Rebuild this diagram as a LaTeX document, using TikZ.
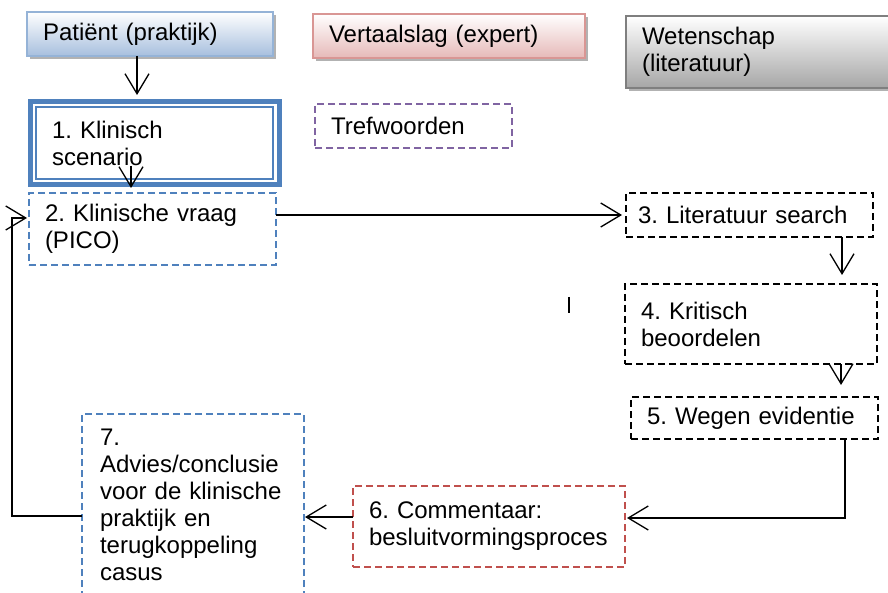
\documentclass[tikz,border=0pt]{standalone}
\usepackage{fontspec}
\setmainfont{Liberation Sans}
\frenchspacing
\usetikzlibrary{arrows.meta,shadows}

\definecolor{accblue}{HTML}{4F81BD}
\definecolor{lightblue}{HTML}{95B3D7}
\definecolor{patblue}{HTML}{A7BFDE}
\definecolor{accred}{HTML}{C0504D}
\definecolor{pinkline}{HTML}{D99694}
\definecolor{pinkfill}{HTML}{E6B9B8}
\definecolor{accpurple}{HTML}{8064A2}
\definecolor{grayline}{HTML}{7F7F7F}
\definecolor{grayfill}{HTML}{A6A6A6}

\begin{document}
\begin{tikzpicture}[
    x=1pt, y=-1pt,
    box/.style={rectangle, anchor=north west, outer sep=0pt, inner xsep=16pt, inner ysep=0pt,
        align=left, line width=1.5pt, font=\fontsize{24}{27}\selectfont},
    header/.style={box, line width=1.2pt,
        drop shadow={shadow xshift=3pt, shadow yshift=-3pt, fill=black!30, opacity=1}},
    dashbox/.style={box, dash pattern=on 7pt off 4pt},
    arrow/.style={-{Straight Barb[length=20pt, width=24pt]}, line width=1.3pt}
]
\useasboundingbox (0,0) rectangle (888,593);

% Headers
\node[header, draw=lightblue, top color=white, bottom color=patblue,
    minimum width=246pt, minimum height=44pt, text width=214pt] (pat) at (27,12) {Patiënt (praktijk)};
\node[header, draw=pinkline, top color=white, bottom color=pinkfill,
    minimum width=272pt, minimum height=44pt, text width=240pt] (vert) at (313,14) {Vertaalslag (expert)};
\node[header, draw=grayline, top color=white, bottom color=grayfill,
    minimum width=270pt, minimum height=72pt, text width=238pt] (wet) at (626,16) {Wetenschap\\(literatuur)};

% Steps
\node[box, draw=accblue, line width=5pt, inner xsep=21.5pt,
    minimum width=249pt, minimum height=83pt, text width=206pt] (b1) at (30.5,101.5) {1. Klinisch\\scenario};
\draw[accblue, line width=1.2pt] ([shift={(5.5,5.5)}]b1.north west) rectangle ([shift={(-6.5,-5.5)}]b1.south east);
\node[dashbox, draw=accpurple, minimum width=197pt, minimum height=44pt, text width=165pt] (tref) at (315,104) {Trefwoorden};
\node[dashbox, draw=accblue, minimum width=247pt, minimum height=72pt, text width=215pt] (b2) at (29,193) {2. Klinische vraag\\(PICO)};
\node[dashbox, draw=black, inner xsep=12pt, minimum width=247pt, minimum height=44pt, text width=223pt] (b3) at (626,193) {3. Literatuur search};
\node[dashbox, draw=black, minimum width=252pt, minimum height=80pt, text width=220pt] (b4) at (625,284) {4. Kritisch\\beoordelen};
\node[dashbox, draw=black, minimum width=247pt, minimum height=42pt, text width=215pt] (b5) at (631,397) {5. Wegen evidentie};
\node[dashbox, draw=accred, minimum width=272pt, minimum height=81pt, text width=240pt] (b6) at (353,486) {6. Commentaar:\\besluitvormingsproces};
\node[dashbox, draw=accblue, inner xsep=18pt, minimum width=222pt, minimum height=182pt, text width=186pt] (b7) at (82,414)
    {7.\\Advies/conclusie\\voor de klinische\\praktijk en\\terugkoppeling\\casus};

\draw[line width=1.3pt] (569,297) -- (569,313);

% Arrows
\draw[arrow] ([shift={(-13,0)}]pat.south) -- ([shift={(-18,-6.5)}]b1.north);
\draw[arrow] ([shift={(-24,-18.5)}]b1.south) -- ([shift={(-21.5,-5)}]b2.north);
\draw[arrow] (b2.east |- b3.west) -- ([shift={(-4,0)}]b3.west);
\draw[arrow] ([shift={(92.5,0)}]b3.south) -- ([shift={(91,-9)}]b4.north);
\draw[arrow] ([shift={(90,0)}]b4.south) -- ([shift={(86.5,-12)}]b5.north);
\draw[arrow] ([shift={(90.5,0)}]b5.south) |- ([shift={(2,-8.5)}]b6.east);
\draw[arrow] ([shift={(0,-9.5)}]b6.west) -- ([shift={(1,12)}]b7.east);
\draw[arrow] ([shift={(0,11)}]b7.west) -- ++(-70,0) |- ([shift={(-2,-11)}]b2.west);
\end{tikzpicture}
\end{document}
